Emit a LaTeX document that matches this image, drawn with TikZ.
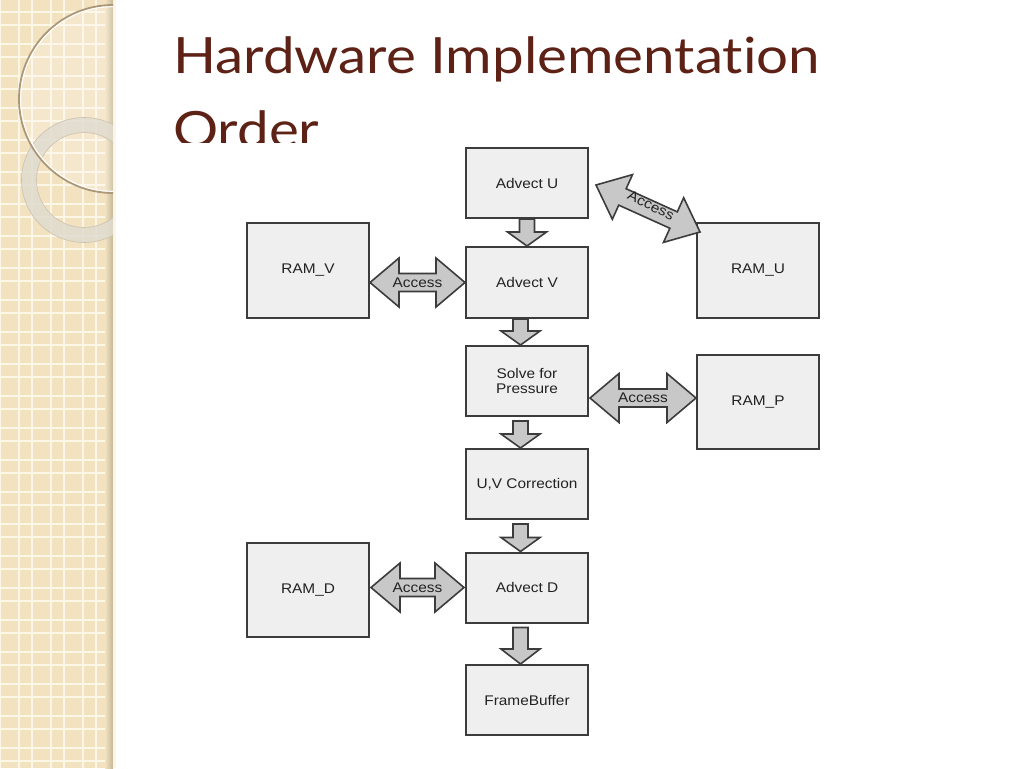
\documentclass[tikz,border=0pt]{standalone}
\usepackage{fontspec}
\usetikzlibrary{calc}
\newfontfamily\dg[FakeStretch=1.1]{Liberation Sans}
\newfontfamily\ttl[FakeStretch=1.13,Ligatures={NoCommon,NoRare,NoDiscretionary}]{Lato}
\definecolor{strip}{RGB}{242,226,192}
\definecolor{gridc}{RGB}{252,246,230}
\definecolor{stripedge}{RGB}{196,182,152}
\definecolor{circc}{RGB}{172,152,120}
\definecolor{ringc}{RGB}{224,220,208}
\definecolor{titlec}{RGB}{94,33,22}
\definecolor{boxline}{RGB}{60,60,60}
\definecolor{boxfill}{RGB}{239,239,239}
\definecolor{arrfill}{RGB}{200,200,200}
\definecolor{txt}{RGB}{34,34,34}
\newcommand\blkdown[5]{%
  \draw[blk] ($(#1.south)+(#3-7.5,#4)$) -- ($(#2.north)+(#3-7.5,-#5)$) -- ($(#2.north)+(#3-19.5,-#5)$) -- ($(#2.north)+(#3,0)$) -- ($(#2.north)+(#3+19.5,-#5)$) -- ($(#2.north)+(#3+7.5,-#5)$) -- ($(#1.south)+(#3+7.5,#4)$) -- cycle;}
\newcommand\blkdbl[2]{%
  \path (#1) coordinate (dA) (#2) coordinate (dB);
  \path ($(dA)!29pt!(dB)$) coordinate (dH1) ($(dB)!29pt!(dA)$) coordinate (dH2);
  \draw[blk] (dA) -- ($(dH1)!24.5pt!90:(dB)$) -- ($(dH1)!9pt!90:(dB)$) -- ($(dH2)!9pt!-90:(dA)$) -- ($(dH2)!24.5pt!-90:(dA)$) -- (dB) -- ($(dH2)!24.5pt!90:(dA)$) -- ($(dH2)!9pt!90:(dA)$) -- ($(dH1)!9pt!-90:(dB)$) -- ($(dH1)!24.5pt!-90:(dB)$) -- cycle;}
\begin{document}
\begin{tikzpicture}[x=1pt,y=-1pt,
  box/.style={draw=boxline, fill=boxfill, line width=2pt, minimum width=122pt, minimum height=70pt, inner sep=0pt, font=\dg\fontsize{14}{14.5}\selectfont, text=txt, align=center},
  blk/.style={draw=boxline, fill=arrfill, line width=1.6pt, line join=miter},
  lbl/.style={inner sep=0pt, font=\dg\fontsize{14}{15}\selectfont, text=txt},
  ttlstyle/.style={anchor=base west, inner sep=0pt, text=titlec, font=\ttl\fontsize{50}{56}\selectfont}]
\useasboundingbox (0,0) rectangle (1024,768);
\fill[white] (0,0) rectangle (1024,768);
% left strip
\fill[strip] (0,0) rectangle (113,768);
\foreach \k in {0,...,3} {
  \draw[gridc, line width=1.3pt] (19+32*\k,0) -- (19+32*\k,768);
  \draw[gridc, line width=1.3pt] (32*\k,0) -- (32*\k,768);
}
\foreach \k in {0,...,24} {
  \draw[gridc, line width=1.3pt] (0,12+32*\k) -- (113,12+32*\k);
  \draw[gridc, line width=1.3pt] (0,25+32*\k) -- (113,25+32*\k);
}
\shade[left color=strip, right color=stripedge] (105,0) rectangle (113,768);
\begin{scope}
  \clip (0,0) rectangle (113,768);
  \fill[white, opacity=0.18] (113,99) circle[radius=94];
  \draw[ringc, line width=15pt, opacity=0.85] (84,180) circle[radius=55];
  \draw[circc!60, line width=0.6pt] (84,180) circle[radius=62.5];
  \draw[circc!60, line width=0.6pt] (84,180) circle[radius=47.5];
  \draw[circc, line width=1.8pt] (113,99) circle[radius=94];
  \draw[white, line width=1pt] (113,99) circle[radius=92.3];
\end{scope}
% title
\node[ttlstyle] (title1) at (173,73) {Hardware Implementation};
\node[ttlstyle] (title2) at (173,147) {Order};
% diagram image background
\fill[white] (150,143) rectangle (850,768);
% boxes
\node[box] (advu) at (527,183) {Advect U};
\node[box, minimum height=71pt] (advv) at (527,282.5) {Advect V};
\node[box, minimum height=95pt] (ramv) at (308,270.5) {RAM\_V};
\node[box, minimum height=95pt] (ramu) at (758,270.5) {RAM\_U};
\node[box] (solve) at (527,381) {Solve for\\Pressure};
\node[box, minimum height=94pt] (ramp) at (758,402) {RAM\_P};
\node[box] (uvc) at (527,484) {U,V Correction};
\node[box, minimum height=94pt] (ramd) at (308,590) {RAM\_D};
\node[box] (advd) at (527,587.5) {Advect D};
\node[box] (fb) at (527,700) {FrameBuffer};
% down arrows
\blkdown{advu}{advv}{0}{0}{14}
\blkdown{advv}{solve}{-6.5}{0}{14}
\blkdown{solve}{uvc}{-6.5}{4}{14}
\blkdown{uvc}{advd}{-6.5}{4}{14}
\blkdown{advd}{fb}{-6.5}{4}{15}
% access arrows
\coordinate (vL) at (ramv.east |- advv.west);
\blkdbl{vL}{advv.west}
\node[lbl] (accv) at ($(vL)!0.5!(advv.west)$) {Access};
\coordinate (pL) at ($(solve.east)+(1,17)$);
\coordinate (pR) at (pL -| ramp.west);
\blkdbl{pL}{pR}
\node[lbl] (accp) at ($(pL)!0.5!(pR)$) {Access};
\coordinate (dL) at ($(ramd.east |- advd.west)+(1,0)$);
\coordinate (dR) at ($(advd.west)+(-1,0)$);
\blkdbl{dL}{dR}
\node[lbl] (accd) at ($(dL)!0.5!(dR)$) {Access};
\coordinate (uL) at ($(advu.east)+(7,2)$);
\coordinate (uR) at ($(ramu.north west)+(4,10)$);
\blkdbl{uL}{uR}
\node[lbl, rotate=-26] (accu) at ($($(uL)!0.5!(uR)$)+(3,-3)$) {Access};
\end{tikzpicture}
\end{document}
